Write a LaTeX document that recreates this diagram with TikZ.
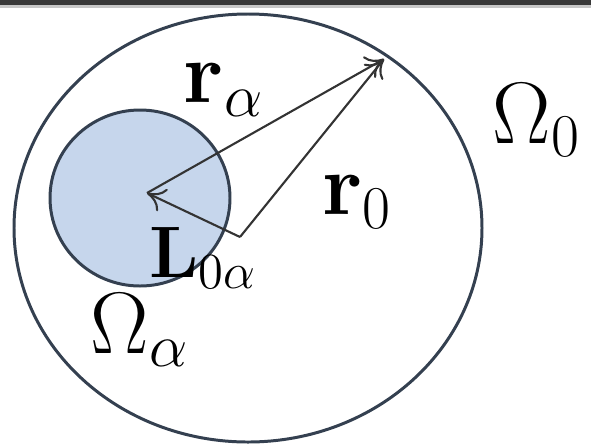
\documentclass[tikz,border=0pt]{standalone}
\usepackage{amsmath}
\usepackage{amssymb}
\usetikzlibrary{arrows.meta}
\definecolor{rim}{RGB}{52,64,80}
\definecolor{blob}{RGB}{198,214,236}

\begin{document}
\begin{tikzpicture}[x=0.01cm,y=-0.01cm,
    vec/.style={-{To[length=5pt,width=7pt]}, line width=0.6pt, draw=black!80},
    lbl/.style={font=\fontsize{26}{30}\selectfont, inner sep=0pt}]
  \useasboundingbox (0,0) rectangle (591,445);
  \fill[black!78] (0,0) rectangle (591,5);
  \fill[black!22] (0,5) rectangle (591,8);

  \draw[rim,line width=0.85pt] (248,228) ellipse[x radius=234,y radius=214];
  \draw[rim,fill=blob,line width=0.85pt] (140,198) ellipse[x radius=90,y radius=88];

  \coordinate (ca) at (147,193);
  \coordinate (tip) at (384,59);
  \coordinate (co) at (240,237);

  \draw[vec] (ca) -- (tip);
  \draw[vec] (co) -- (tip);
  \draw[vec] (co) -- (ca);

  \node[lbl] (ra) at (224,90) {$\mathbf{r}_\alpha$};
  \node[lbl] (om0) at (537,120) {$\Omega_0$};
  \node[lbl] (r0) at (357,202) {$\mathbf{r}_0$};
  \node[lbl,font=\fontsize{20}{24}\selectfont] (l0a) at (203,258) {$\mathbf{L}_{0\alpha}$};
  \node[lbl] (oma) at (140,330) {$\Omega_\alpha$};
\end{tikzpicture}
\end{document}
